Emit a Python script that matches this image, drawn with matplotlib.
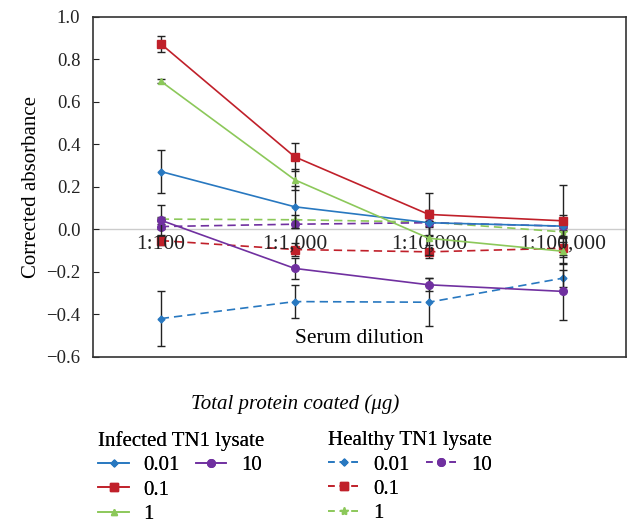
import numpy as np
import matplotlib.pyplot as plt
from matplotlib.lines import Line2D

plt.rcParams['font.family'] = ['Liberation Serif', 'DejaVu Serif']

dilutions = ['1:100', '1:1,000', '1:10,000', '1:100,000']
amounts = ['0.01', '0.1', '1', '10']

# infected TN1 lysate, mean and error
inf_mean = {
    '0.01': [0.272, 0.106, 0.031, 0.015],
    '0.1': [0.873, 0.341, 0.070, 0.040],
    '1': [0.697, 0.233, -0.042, -0.103],
    '10': [0.043, -0.184, -0.261, -0.292],
}
inf_err = {
    '0.01': [0.099, 0.10, 0.06, 0.05],
    '0.1': [0.038, 0.065, 0.10, 0.17],
    '1': [0.010, 0.05, 0.08, 0.06],
    '10': [0.070, 0.05, 0.03, 0.135],
}
# healthy TN1 lysate
hea_mean = {
    '0.01': [-0.420, -0.340, -0.343, -0.230],
    '0.1': [-0.053, -0.095, -0.106, -0.089],
    '1': [0.048, 0.045, 0.034, -0.012],
    '10': [0.013, 0.024, 0.031, 0.015],
}
hea_err = {
    '0.01': [0.130, 0.078, 0.113, 0.04],
    '0.1': [0.02, 0.03, 0.03, 0.03],
    '1': [0.01, 0.02, 0.02, 0.02],
    '10': [0.01, 0.02, 0.02, 0.02],
}

colors = {'0.01': '#2878c0', '0.1': '#c0202a', '1': '#8cc85a', '10': '#7030a0'}
markers_inf = {'0.01': 'D', '0.1': 's', '1': '^', '10': 'o'}
markers_hea = {'0.01': 'D', '0.1': 's', '1': '*', '10': 'o'}
msize = {'D': 3.5, 's': 5.5, '^': 5, 'o': 5.5, '*': 6}

fig = plt.figure(figsize=(6.27, 5.24), dpi=100)
ax = fig.add_axes([0.148, 0.319, 0.85, 0.649])
x = np.arange(len(dilutions))

ax.axhline(0, color='#cccccc', lw=1, zorder=1)

inf_handles = []
hea_handles = []
for a in amounts:
    m = markers_hea[a]
    ax.errorbar(x, hea_mean[a], yerr=hea_err[a], color=colors[a], ls=(0, (5, 3)),
                lw=1.2, marker=m, ms=msize[m], ecolor='#222222', elinewidth=1,
                capsize=3, capthick=1, zorder=2)
    hea_handles.append(Line2D([], [], color=colors[a], ls=(0, (4, 3)), lw=1.2,
                              marker=m, ms=msize[m]))
for a in amounts:
    m = markers_inf[a]
    ax.errorbar(x, inf_mean[a], yerr=inf_err[a], color=colors[a], ls='-',
                lw=1.2, marker=m, ms=msize[m], ecolor='#222222', elinewidth=1,
                capsize=3, capthick=1, zorder=3)
    inf_handles.append(Line2D([], [], color=colors[a], ls='-', lw=1.2,
                              marker=m, ms=msize[m]))

ax.set_xlim(-0.507, 3.47)
ax.set_ylim(-0.6, 1.0)
ax.set_yticks(np.arange(-0.6, 1.01, 0.2))
ax.set_yticklabels(['\u22120.6', '\u22120.4', '\u22120.2', '0.0', '0.2', '0.4',
                    '0.6', '0.8', '1.0'])
ax.tick_params(axis='y', direction='in', length=4, pad=9, labelsize=13.5,
               colors='#222222')
ax.set_xticks([])
for xi, lab in zip(x, dilutions):
    ax.text(xi, -0.025, lab, ha='center', va='top', fontsize=15.5, color='#222222')
for s in ax.spines.values():
    s.set_color('#333333')
    s.set_linewidth(1.2)

ax.set_ylabel('Corrected absorbance', fontsize=15, labelpad=4)
ax.text(0.5, 0.025, 'Serum dilution', transform=ax.transAxes, ha='center',
        va='bottom', fontsize=15.5)

fig.text(295 / 627, 1 - 404 / 524, 'Total protein coated (\u03bcg)', ha='center',
         va='center', fontsize=15, style='italic')

blank = Line2D([], [], color='none')
for handles, title, xpos in [(inf_handles, 'Infected TN1 lysate', 88),
                             (hea_handles, 'Healthy TN1 lysate', 318)]:
    hs = handles[:3] + [handles[3], blank, blank]
    labs = amounts[:3] + [amounts[3], '', '']
    leg = fig.legend(hs, labs, ncol=2, title=title, loc='upper left',
                     bbox_to_anchor=(xpos / 627, 1 - 421 / 524), frameon=False,
                     fontsize=15, title_fontsize=15, handlelength=1.45,
                     handletextpad=0.7, columnspacing=0.8, labelspacing=0.22,
                     alignment='left', borderpad=0)
    fig.add_artist(leg)

fig.savefig('out.png', dpi=100)
